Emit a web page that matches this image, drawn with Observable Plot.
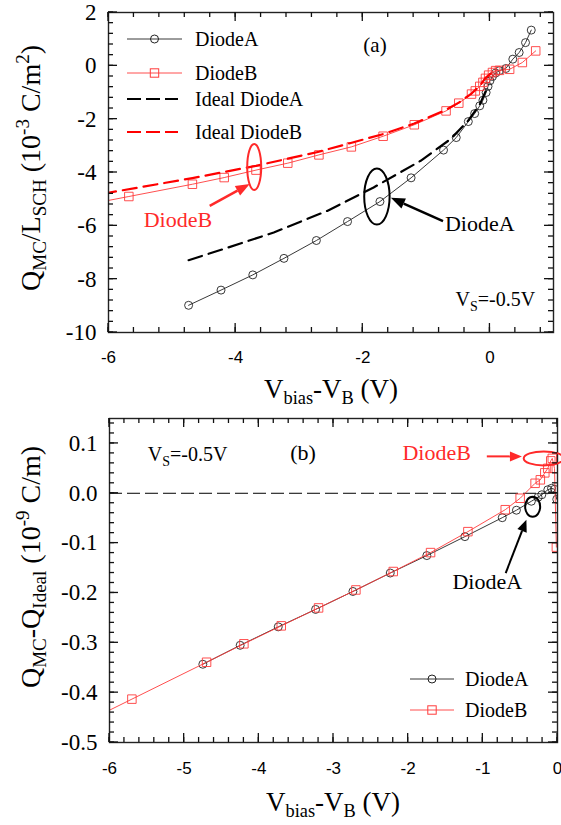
<!DOCTYPE html>
<html><head><meta charset="utf-8">
<script src="https://cdn.jsdelivr.net/npm/d3@7"></script>
<script src="https://cdn.jsdelivr.net/npm/@observablehq/plot@0.6"></script>
<style>
body{margin:0;background:#fff;}
#wrap{position:relative;width:561px;height:825px;overflow:hidden;background:#fff;}
#wrap > svg{position:absolute;left:0;}
</style></head><body><div id="wrap"></div>
<script>
// ---------- Panel (a) data ----------
const aDiodeA_x = [-4.74,-4.23,-3.73,-3.24,-2.73,-2.24,-1.73,-1.24,-0.73,-0.53,-0.34,-0.24,-0.16,-0.11,-0.06,-0.03,0.0,0.04,0.09,0.15,0.25,0.36,0.46,0.56,0.65];
const aDiodeA_y = [-8.98,-8.41,-7.84,-7.22,-6.55,-5.84,-5.09,-4.20,-3.16,-2.69,-2.09,-1.79,-1.50,-1.29,-1.00,-0.77,-0.56,-0.40,-0.27,-0.18,-0.10,0.25,0.50,0.87,1.34];
const aDiodeB_x = [-6.18,-5.68,-4.68,-4.18,-3.68,-3.18,-2.69,-2.18,-1.68,-1.19,-0.69,-0.49,-0.29,-0.23,-0.16,-0.11,-0.07,-0.02,0.04,0.09,0.15,0.31,0.51,0.72];
const aDiodeB_y = [-5.13,-4.90,-4.44,-4.19,-3.91,-3.65,-3.34,-3.04,-2.64,-2.21,-1.69,-1.40,-1.06,-0.94,-0.77,-0.62,-0.47,-0.35,-0.25,-0.18,-0.17,-0.13,0.125,0.56];
const aIdealA_x = [-4.74,-4.19,-3.40,-2.56,-1.83,-1.09,-0.62,-0.34,-0.16,-0.03];
const aIdealA_y = [-7.29,-6.87,-6.25,-5.44,-4.56,-3.56,-2.75,-2.05,-1.45,-0.75];
const aIdealB_x = [-6.10,-4.68,-3.68,-2.69,-1.68,-1.19,-0.69,-0.49,-0.29,-0.16,-0.07,0.04];
const aIdealB_y = [-4.80,-4.21,-3.75,-3.22,-2.56,-2.16,-1.65,-1.38,-1.04,-0.75,-0.45,-0.24];
const aXTicks = [-6,-4,-2,0];
const aYTicks = [2,0,-2,-4,-6,-8,-10];

// ---------- Panel (b) data ----------
const bDiodeA_x = [-4.75,-4.25,-3.74,-3.24,-2.74,-2.24,-1.75,-1.24,-0.74,-0.55,-0.35,-0.26,-0.21,-0.13,-0.08,-0.04,-0.01];
const bDiodeA_y = [-0.343,-0.305,-0.268,-0.233,-0.197,-0.160,-0.125,-0.087,-0.049,-0.034,-0.016,-0.008,-0.003,0.007,0.010,0.008,-0.012];
const bDiodeB_x = [-6.20,-5.70,-4.70,-4.20,-3.70,-3.20,-2.70,-2.20,-1.70,-1.20,-0.70,-0.50,-0.30,-0.23,-0.17,-0.13,-0.09,-0.07,-0.04,-0.015];
const bDiodeB_y = [-0.450,-0.413,-0.339,-0.302,-0.266,-0.230,-0.194,-0.157,-0.119,-0.077,-0.033,-0.010,0.020,0.027,0.041,0.050,0.065,0.070,0.050,-0.108];
const bXTicks = [-6,-5,-4,-3,-2,-1,0];
const bYTicks = [0.1,0.0,-0.1,-0.2,-0.3,-0.4,-0.5];

const toPts = (xs, ys) => xs.map((x, i) => ({x, y: ys[i]}));

const SERIF = "Liberation Serif, Times New Roman, serif";
const SANS = "Liberation Sans, Arial, sans-serif";
const RED = "#ff2a2a";
const FRAME = "#222";

function frameAxes(xMaj, yMaj, xPad, yPad, yFmt) {
  return [
    Plot.frame({stroke: FRAME, strokeWidth: 1.4}),
    Plot.axisX({ticks: xMaj, anchor: "bottom", tickSize: 0, tickPadding: xPad, label: null,
      tickFormat: d => String(d), fontFamily: SANS, fontSize: 17, fill: "#000"}),
    Plot.axisY({ticks: yMaj, anchor: "left", tickSize: 0, tickPadding: yPad, label: null,
      tickFormat: yFmt, fontFamily: SERIF, fontSize: 23, fill: "#000"})
  ];
}

function seriesMarks(pts, color, symbol, r) {
  return [
    Plot.line(pts, {x: "x", y: "y", stroke: color, strokeWidth: 0.9, clip: true}),
    Plot.dot(pts, {x: "x", y: "y", stroke: color, fill: "none", symbol, r, strokeWidth: 0.9, clip: true})
  ];
}

const wrap = document.getElementById("wrap");
const TOP_A = 2, TOP_B = 400;

// ---------- Plot (a) ----------
const plotA = Plot.plot({
  width: 561, height: 400, marginTop: 10, marginBottom: 70, marginLeft: 108, marginRight: 8,
  x: {domain: [-6, 1], label: null},
  y: {domain: [-10, 2], label: null},
  style: {fontFamily: SERIF, background: "transparent", color: "#000", overflow: "visible"},
  marks: [
    ...seriesMarks(toPts(aDiodeA_x, aDiodeA_y), "#222", "circle", 4),
    ...seriesMarks(toPts(aDiodeB_x, aDiodeB_y), "#ff3b3b", "square", 4.8),
    Plot.line(toPts(aIdealA_x, aIdealA_y), {x: "x", y: "y", stroke: "#000", strokeWidth: 2.2, strokeDasharray: "14,7", clip: true}),
    Plot.line(toPts(aIdealB_x, aIdealB_y), {x: "x", y: "y", stroke: "#ff0000", strokeWidth: 2.2, strokeDasharray: "14,7", clip: true}),
    ...frameAxes(aXTicks, aYTicks, 18, 12, d => String(d))
  ]
});
plotA.style.top = TOP_A + "px";
wrap.appendChild(plotA);

// ---------- Plot (b) ----------
const plotB = Plot.plot({
  width: 561, height: 425, marginTop: 18, marginBottom: 83, marginLeft: 109, marginRight: 4,
  x: {domain: [-6, 0], label: null},
  y: {domain: [-0.5, 0.15], label: null},
  style: {fontFamily: SERIF, background: "transparent", color: "#000", overflow: "visible"},
  marks: [
    Plot.ruleY([0], {stroke: "#000", strokeWidth: 1, strokeDasharray: "13,5"}),
    ...seriesMarks(toPts(bDiodeA_x, bDiodeA_y), "#222", "circle", 4),
    ...seriesMarks(toPts(bDiodeB_x, bDiodeB_y), "#ff3b3b", "square", 4.8),
    ...frameAxes(bXTicks, bYTicks, 19, 12, d => d.toFixed(1))
  ]
});
plotB.style.top = TOP_B + "px";
wrap.appendChild(plotB);

// ---------- annotation helpers (positions in data units, mapped by Plot's scales) ----------
function annot(plot, {texts = [], ellipses = [], arrows = []}) {
  const sx = plot.scale("x"), sy = plot.scale("y");
  const g = d3.select(plot).append("g");
  for (const e of ellipses) {
    g.append("ellipse").attr("cx", sx.apply(e.x)).attr("cy", sy.apply(e.y))
      .attr("rx", e.rx).attr("ry", e.ry).attr("fill", "none").attr("stroke", e.color).attr("stroke-width", 2);
  }
  for (const a of arrows) {
    const x1 = sx.apply(a.x1), y1 = sy.apply(a.y1), x2 = sx.apply(a.x2), y2 = sy.apply(a.y2);
    const ang = Math.atan2(y2 - y1, x2 - x1), L = a.head, W = a.headW;
    const bx = x2 - L * Math.cos(ang), by = y2 - L * Math.sin(ang);
    g.append("line").attr("x1", x1).attr("y1", y1).attr("x2", bx).attr("y2", by)
      .attr("stroke", a.color).attr("stroke-width", a.w);
    const px = -Math.sin(ang) * W / 2, py = Math.cos(ang) * W / 2;
    g.append("polygon").attr("points", `${x2},${y2} ${bx + px},${by + py} ${bx - px},${by - py}`).attr("fill", a.color);
  }
  for (const t of texts) {
    const el = g.append("text").attr("x", sx.apply(t.x)).attr("y", sy.apply(t.y)).attr("dy", "0.35em")
      .attr("text-anchor", t.anchor || "middle").attr("fill", t.color || "#000")
      .attr("font-family", SERIF).attr("font-size", t.size || 20);
    if (t.sub) {
      el.append("tspan").text(t.parts[0]);
      el.append("tspan").attr("font-size", 14).attr("dy", 5).text(t.parts[1]);
      el.append("tspan").attr("dy", -5).text(t.parts[2]);
    } else el.text(t.text);
  }
}

annot(plotA, {
  texts: [
    {x: -1.80, y: 0.76, text: "(a)", size: 21},
    {x: 0.72, y: -8.75, sub: true, parts: ["V", "S", "=-0.5V"], anchor: "end", size: 20},
    {x: -4.90, y: -5.76, text: "DiodeB", color: RED, size: 22},
    {x: -0.70, y: -5.91, text: "DiodeA", anchor: "start", size: 22}
  ],
  ellipses: [
    {x: -3.70, y: -3.81, rx: 7, ry: 23, color: RED},
    {x: -1.77, y: -4.92, rx: 12.7, ry: 28, color: "#000"}
  ],
  arrows: [
    {x1: -4.40, y1: -5.27, x2: -3.77, y2: -4.45, color: RED, w: 2.5, head: 14, headW: 11},
    {x1: -0.73, y1: -5.84, x2: -1.55, y2: -4.97, color: "#000", w: 2.5, head: 14, headW: 11}
  ]
});

annot(plotB, {
  texts: [
    {x: -3.40, y: 0.081, text: "(b)", size: 22},
    {x: -5.48, y: 0.077, sub: true, parts: ["V", "S", "=-0.5V"], anchor: "start", size: 20},
    {x: -2.07, y: 0.081, text: "DiodeB", color: RED, anchor: "start", size: 22},
    {x: -1.40, y: -0.178, text: "DiodeA", anchor: "start", size: 22}
  ],
  ellipses: [
    {x: -0.178, y: 0.069, rx: 20, ry: 7, color: RED},
    {x: -0.326, y: -0.028, rx: 7.5, ry: 10, color: "#000"}
  ],
  arrows: [
    {x1: -0.94, y1: 0.073, x2: -0.47, y2: 0.073, color: RED, w: 2, head: 12, headW: 10},
    {x1: -0.687, y1: -0.161, x2: -0.41, y2: -0.054, color: "#000", w: 2, head: 12, headW: 10}
  ]
});

// ---------- overlay: frame ticks, axis titles and legends ----------
const ov = d3.select(wrap).append("svg").attr("width", 561).attr("height", 825)
  .style("top", "0px").style("pointer-events", "none");

// inward ticks on all four frame sides, placed with each plot's own scales
function frameTicks(plot, top, xMaj, xMin, yMaj, yMin) {
  const sx = plot.scale("x"), sy = plot.scale("y");
  const xa = sx.apply(sx.domain[0]), xb = sx.apply(sx.domain[1]);
  const yBottom = sy.apply(sy.domain[0]) + top, yTop = sy.apply(sy.domain[1]) + top;
  const add = (ax, ay, bx, by) => ov.append("path")
    .attr("d", `M${ax},${ay}L${bx},${by}`)
    .attr("fill", "none").attr("stroke", "#111").attr("stroke-width", 1.3);
  for (const [ticks, L] of [[xMaj, 9], [xMin, 5]])
    for (const v of ticks) { const px = sx.apply(v); add(px, yBottom, px, yBottom - L); add(px, yTop, px, yTop + L); }
  for (const [ticks, L] of [[yMaj, 9], [yMin, 5]])
    for (const v of ticks) { const py = sy.apply(v) + top; add(xa, py, xa + L, py); add(xb, py, xb - L, py); }
}
frameTicks(plotA, TOP_A, aXTicks, d3.range(-6, 1.001, 0.4), aYTicks, d3.range(-10, 2.001, 0.4));
frameTicks(plotB, TOP_B, bXTicks, d3.range(-6, 0.001, 0.2), bYTicks, d3.range(-0.5, 0.1501, 0.02));

function title(x, y, pieces, size, rotate) {
  const t = ov.append("text").attr("text-anchor", "middle").attr("font-family", SERIF).attr("font-size", size)
    .attr("fill", "#000");
  if (rotate) t.attr("transform", `translate(${x},${y}) rotate(-90)`);
  else t.attr("x", x).attr("y", y);
  let shift = 0;
  for (const [txt, kind] of pieces) {
    const target = kind === "sub" ? 6 : kind === "sup" ? -11 : 0;
    const sp = t.append("tspan").attr("dy", target - shift).text(txt);
    if (kind) sp.attr("font-size", size * 0.68);
    shift = target;
  }
}
title(331, 398, [["V"], ["bias", "sub"], ["-V"], ["B", "sub"], [" (V)"]], 27);
title(333, 811, [["V"], ["bias", "sub"], ["-V"], ["B", "sub"], [" (V)"]], 27);
title(40, 168, [["Q"], ["MC", "sub"], ["/L"], ["SCH", "sub"], [" (10"], ["-3", "sup"], [" C/m"], ["2", "sup"], [")"]], 28, true);
title(40, 567, [["Q"], ["MC", "sub"], ["-Q"], ["Ideal", "sub"], [" (10"], ["-9", "sup"], [" C/m)"]], 28, true);

function legendRow(x1, x2, y, label, color, opts) {
  const l = ov.append("line").attr("x1", x1).attr("x2", x2).attr("y1", y).attr("y2", y)
    .attr("stroke", color).attr("stroke-width", opts.w);
  if (opts.dash) l.attr("stroke-dasharray", opts.dash);
  const mx = (x1 + x2) / 2;
  if (opts.symbol === "circle") ov.append("circle").attr("cx", mx).attr("cy", y).attr("r", 4)
    .attr("fill", "none").attr("stroke", color);
  if (opts.symbol === "square") ov.append("rect").attr("x", mx - 4.2).attr("y", y - 4.2).attr("width", 8.4).attr("height", 8.4)
    .attr("fill", "none").attr("stroke", color);
  ov.append("text").attr("x", opts.tx).attr("y", y).attr("dy", "0.35em").attr("font-family", SERIF)
    .attr("font-size", 20).attr("fill", "#000").text(label);
}
legendRow(127, 182, 39, "DiodeA", "#222", {w: 0.9, symbol: "circle", tx: 195});
legendRow(127, 182, 73, "DiodeB", "#ff3b3b", {w: 0.9, symbol: "square", tx: 195});
legendRow(127, 178, 99, "Ideal DiodeA", "#000", {w: 2.2, dash: "14,5", tx: 195});
legendRow(127, 178, 132, "Ideal DiodeB", "#ff0000", {w: 2.2, dash: "14,5", tx: 195});
legendRow(410, 454, 679, "DiodeA", "#222", {w: 0.9, symbol: "circle", tx: 465});
legendRow(410, 454, 710, "DiodeB", "#ff3b3b", {w: 0.9, symbol: "square", tx: 465});
</script></body></html>
